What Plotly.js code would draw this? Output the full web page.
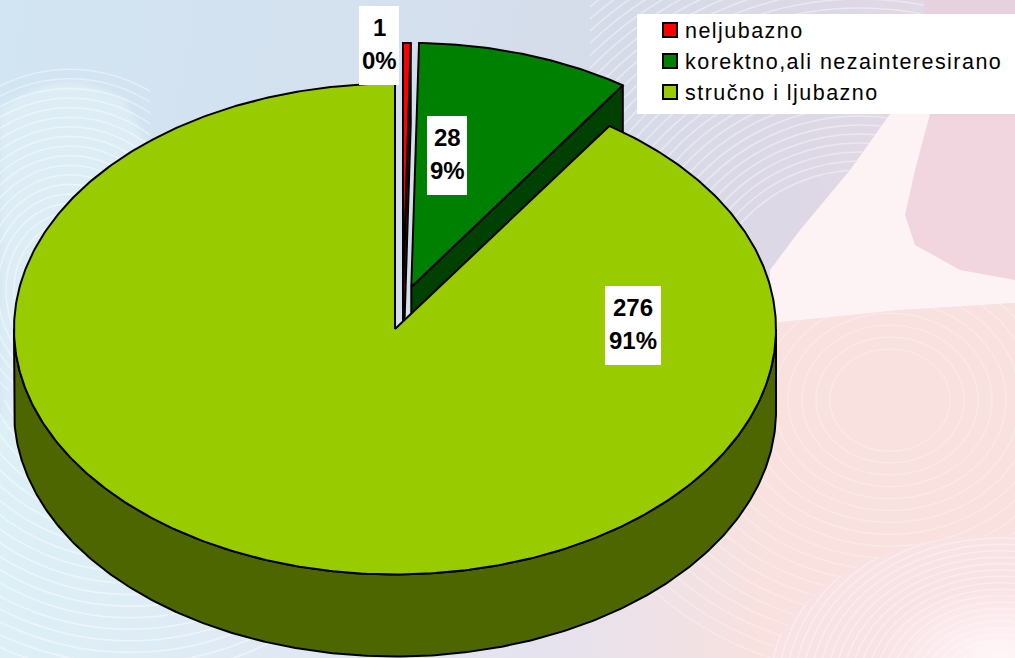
<!DOCTYPE html>
<html>
<head>
<meta charset="utf-8">
<script src="https://cdn.plot.ly/plotly-3.0.1.min.js"></script>
<style>
html,body{margin:0;padding:0;width:1015px;height:658px;overflow:hidden;background:#dfe3ee}
#bg{position:absolute;left:0;top:0;width:1015px;height:658px}
#chart{position:absolute;left:0;top:0;width:1015px;height:658px}
.legendtext{letter-spacing:1.46px}
.legend .legendpoints{transform:translateX(5px)}
</style>
</head>
<body>
<svg id="bg" xmlns="http://www.w3.org/2000/svg" width="1015" height="658" viewBox="0 0 1015 658">
  <defs>
    <linearGradient id="base" x1="0" y1="0" x2="1" y2="0.12">
      <stop offset="0" stop-color="#d2e5f3"/>
      <stop offset="0.35" stop-color="#d4e1ef"/>
      <stop offset="0.6" stop-color="#d5dbe9"/>
      <stop offset="0.78" stop-color="#dcd8e6"/>
      <stop offset="1" stop-color="#e6d8e4"/>
    </linearGradient>
    <linearGradient id="lower" x1="0" y1="0" x2="1" y2="0">
      <stop offset="0" stop-color="#dcf0f6"/>
      <stop offset="0.3" stop-color="#e0e8f4"/>
      <stop offset="0.55" stop-color="#e6e2ee"/>
      <stop offset="0.75" stop-color="#f8e1df"/>
      <stop offset="1" stop-color="#f8e1df"/>
    </linearGradient>
    <radialGradient id="glow" cx="0.5" cy="0.5" r="0.5">
      <stop offset="0" stop-color="#fff6f8" stop-opacity="1"/>
      <stop offset="1" stop-color="#fff6f8" stop-opacity="0"/>
    </radialGradient>
    <filter id="soft"><feGaussianBlur stdDeviation="0.7"/></filter>
    <filter id="softer"><feGaussianBlur stdDeviation="3"/></filter>
    <clipPath id="lowRight"><path d="M600,322 L900,310 L1015,303 L1015,658 L600,658 Z"/></clipPath>
    <clipPath id="lowLeft"><rect x="0" y="400" width="420" height="258"/></clipPath>
    <clipPath id="upLeft"><rect x="0" y="60" width="150" height="330"/></clipPath>
    <clipPath id="upMid"><path d="M590,0 L925,0 L890,115 L775,270 L590,270 Z"/></clipPath>
    <clipPath id="corner"><ellipse cx="1000" cy="690" rx="235" ry="155"/></clipPath>
  </defs>
  <rect width="1015" height="658" fill="url(#base)"/>
  <path d="M0,110 Q60,60 125,100 L150,150 L90,430 L0,430 Z" fill="#dcedf5" filter="url(#softer)"/>
  <rect x="0" y="420" width="1015" height="238" fill="url(#lower)"/>
  <path d="M761,322 L900,310 L1015,303 L1015,658 L761,658 Z" fill="#f8e1df"/>
  <rect x="925" y="0" width="90" height="120" fill="#e6d1de"/>
  <path d="M905,115 L1030,115 L1030,300 L950,300 L915,245 L905,215 Z" fill="#f1d6df" filter="url(#softer)"/>
  <g id="ringsLowLeft" clip-path="url(#lowLeft)" filter="url(#soft)"></g>
  <g id="ringsUpLeft" clip-path="url(#upLeft)" filter="url(#soft)"></g>
  <g id="ringsUpMid" clip-path="url(#upMid)" filter="url(#soft)"></g>
  <g id="ringsLowRight" clip-path="url(#lowRight)" filter="url(#soft)"></g>
  <ellipse cx="1000" cy="690" rx="235" ry="155" fill="#f9e2e5"/>
  <g id="ringsCorner" clip-path="url(#corner)" filter="url(#soft)"></g>
  <path d="M890,114 L930,114 L915,170 L905,215 L915,245 L960,270 L1015,280 L1015,303 L900,310 L770,323 L770,270 L800,230 L850,170 Z" fill="#fdf2f4"/>
  <ellipse cx="1000" cy="655" rx="120" ry="70" fill="url(#glow)"/>
</svg>
<div id="chart"></div>
<script>
const categories = ["neljubazno","korektno,ali nezainteresirano","stručno i ljubazno"];
const values = [1,28,276];
const percentLabels = ["0%","9%","91%"];
const topColors = ["#FF0000","#008000","#99CC00"];
const wallColors = ["#800000","#004000","#4D6600"];
const apexX = [403,411.3,395];
const apexY = [288,287,329];
const radiusX = [375,376,381];
const radiusY = [245,244,245.5];
const depth = 82;
const labelBoxes = [[359,399,6,85],[427,467,116,195],[605,661,286,365]];

// faint background rings (decoration only)
function rings(id,cx,cy,r0,r1,step,ratio,op){
  const g=document.getElementById(id);
  for(let r=r0;r<=r1;r+=step){
    const e=document.createElementNS("http://www.w3.org/2000/svg","ellipse");
    e.setAttribute("cx",cx);e.setAttribute("cy",cy);e.setAttribute("rx",r);e.setAttribute("ry",r*ratio);
    e.setAttribute("fill","none");e.setAttribute("stroke","#fff");e.setAttribute("stroke-width","1.6");e.setAttribute("stroke-opacity",op);
    g.appendChild(e);
  }
}
rings("ringsLowLeft",130,330,120,330,11,1.05,0.45);
rings("ringsUpLeft",70,290,40,190,8,1.2,0.4);
rings("ringsUpMid",860,330,160,430,9,1.0,0.4);
rings("ringsLowRight",890,400,60,330,14,0.85,0.25);
rings("ringsCorner",1000,690,30,240,8,0.8,0.3);

const total = values.reduce((a,b)=>a+b,0);
let acc = 0;
const slices = values.map(v=>{const s=acc/total*2*Math.PI; acc+=v; return [s,acc/total*2*Math.PI];});
function rim(i,a,dy){return [apexX[i]+radiusX[i]*Math.sin(a), apexY[i]-radiusY[i]*Math.cos(a)+dy];}
function arc(i,a0,a1,dy){const n=Math.max(2,Math.ceil(Math.abs(a1-a0)/0.01));const p=[];for(let k=0;k<=n;k++)p.push(rim(i,a0+(a1-a0)*k/n,dy));return p;}
function poly(pts,fill,name){return {type:"scatter",mode:"lines",x:pts.map(p=>p[0]),y:pts.map(p=>p[1]),fill:"toself",fillcolor:fill,line:{color:"#000",width:2},hoverinfo:"skip",showlegend:false,name:name||""};}

const traces=[];
// back slices first, the big slice covers them
[0,1].forEach(i=>{
  const [s,e]=slices[i];
  const ap=[apexX[i],apexY[i]];
  const r=rim(i,e,0);
  traces.push(poly([ap,r,[r[0],r[1]+depth],[ap[0],ap[1]+depth],ap],wallColors[i]));
  traces.push(poly([ap].concat(arc(i,s,e,0)).concat([ap]),topColors[i],categories[i]));
});
const [s2,e2]=slices[2];
const wallTop=arc(2,Math.PI/2,Math.PI*1.5,0);
const wallBot=arc(2,Math.PI*1.5,Math.PI/2,depth);
traces.push(poly(wallTop.concat(wallBot).concat([wallTop[0]]),wallColors[2]));
traces.push(poly([[apexX[2],apexY[2]]].concat(arc(2,s2,e2,0)).concat([[apexX[2],apexY[2]]]),topColors[2],categories[2]));
// legend entries
categories.forEach((c,i)=>traces.push({type:"scatter",mode:"markers",x:[null],y:[null],name:c,marker:{symbol:"square",size:14,color:topColors[i],line:{color:"#000",width:2}},showlegend:true}));

const shapes=[{type:"rect",xref:"x",yref:"y",x0:637,x1:1015,y0:14,y1:114,fillcolor:"#fff",line:{width:0},layer:"above"}];
const annotations=[];
const labelFont={family:"Liberation Sans, Arial",size:24,color:"#000"};
values.forEach((v,i)=>{
  const b=labelBoxes[i];
  shapes.push({type:"rect",xref:"x",yref:"y",x0:b[0],x1:b[1],y0:b[2],y1:b[3],fillcolor:"#fff",line:{width:0},layer:"above"});
  const cx=(b[0]+b[1])/2;
  annotations.push({xref:"x",yref:"y",x:cx,y:b[2]+21,text:"<b>"+v+"</b>",showarrow:false,font:labelFont,xanchor:"center",yanchor:"middle"});
  annotations.push({xref:"x",yref:"y",x:cx,y:b[2]+54,text:"<b>"+percentLabels[i]+"</b>",showarrow:false,font:labelFont,xanchor:"center",yanchor:"middle"});
});

const layout={
  width:1015,height:658,margin:{l:0,r:0,t:0,b:0},
  paper_bgcolor:"rgba(0,0,0,0)",plot_bgcolor:"rgba(0,0,0,0)",
  xaxis:{range:[0,1015],visible:false,fixedrange:true},
  yaxis:{range:[658,0],visible:false,fixedrange:true},
  shapes,annotations,
  showlegend:true,
  legend:{x:645/1015,y:1-9.5/658,xanchor:"left",yanchor:"top",bgcolor:"rgba(0,0,0,0)",borderwidth:0,font:{family:"Liberation Sans, Arial",size:21.5,color:"#000"},itemclick:false,itemdoubleclick:false}
};
Plotly.newPlot("chart",traces,layout,{displayModeBar:false,staticPlot:true});
</script>
</body>
</html>
